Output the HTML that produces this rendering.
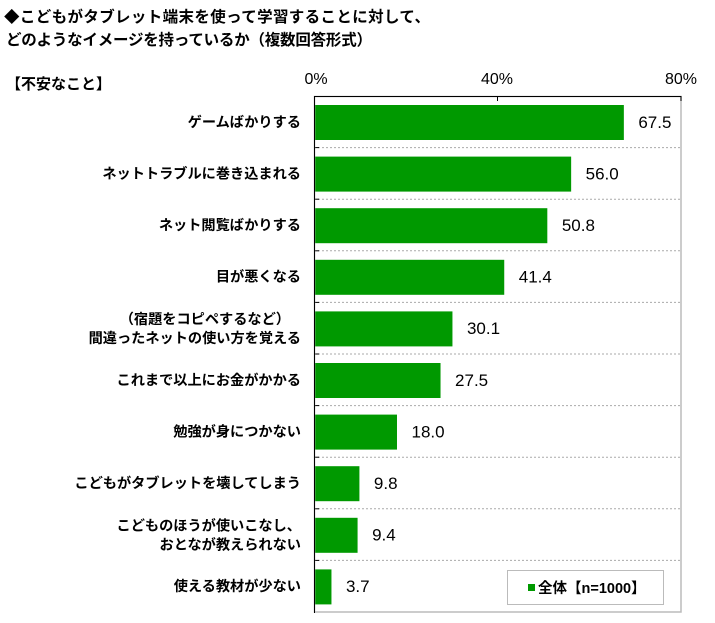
<!DOCTYPE html><html><head><meta charset="utf-8"><style>
body{margin:0;width:715px;height:618px;background:#fff;font-family:"Liberation Sans","Noto Sans CJK JP",sans-serif;}
</style></head><body>
<svg width="715" height="618" xmlns="http://www.w3.org/2000/svg" font-family="Liberation Sans, Noto Sans CJK JP, sans-serif">
<text x="4" y="22" font-size="15.5" font-weight="bold" textLength="426">◆こどもがタブレット端末を使って学習することに対して、</text>
<text x="6" y="45" font-size="15.5" font-weight="bold" textLength="366">どのようなイメージを持っているか（複数回答形式）</text>
<text x="6" y="89" font-size="15" font-weight="bold">【不安なこと】</text>
<g font-size="16" text-anchor="middle"><text x="316" y="84">0%</text><text x="497" y="84">40%</text><text x="681" y="84">80%</text></g>
<g id="rows"></g>
<rect x="314.5" y="96.5" width="366.5" height="515.5" fill="none" stroke="#bbb" stroke-width="1.5"/>
<line x1="314.5" y1="96.5" x2="681" y2="96.5" stroke="#000"/>
<line x1="314.5" y1="96" x2="314.5" y2="613" stroke="#000"/>
<line x1="497.5" y1="96" x2="497.5" y2="101" stroke="#000"/>
<line x1="681" y1="96" x2="681" y2="101" stroke="#000"/>
<rect x="507.5" y="570.5" width="156" height="34" fill="#fff" stroke="#bbb"/>
<rect x="528" y="584" width="7" height="7" fill="#009900"/>
<text x="538" y="593" font-size="14.5" font-weight="bold">全体【n=1000】</text>
</svg>
<script>
var d=[["ゲームばかりする",67.5],["ネットトラブルに巻き込まれる",56.0],["ネット閲覧ばかりする",50.8],["目が悪くなる",41.4],["（宿題をコピペするなど）|間違ったネットの使い方を覚える",30.1],["これまで以上にお金がかかる",27.5],["勉強が身につかない",18.0],["こどもがタブレットを壊してしまう",9.8],["こどものほうが使いこなし、|おとなが教えられない",9.4],["使える教材が少ない",3.7]];
var s="",h=51.6;
d.forEach(function(r,i){var y=96+i*h,c=y+h/2,w=r[1]*4.583;
if(i>0)s+='<line x1="314" y1="'+y+'" x2="681" y2="'+y+'" stroke="#aaa" stroke-dasharray="2,2"/><line x1="314" y1="'+y+'" x2="319" y2="'+y+'" stroke="#000"/>';
s+='<rect x="314.5" y="'+(y+9)+'" width="'+w+'" height="35" fill="#009900"/>';
s+='<text x="'+(314+w+15)+'" y="'+(c+6)+'" font-size="17">'+r[1].toFixed(1)+'</text>';
var L=r[0].split("|");
if(L.length==1)s+='<text x="301" y="'+(c+5)+'" font-size="14.2" font-weight="bold" text-anchor="end">'+L[0]+'</text>';
else{s+='<text x="'+(i==4?290:301)+'" y="'+(c-4)+'" font-size="14.2" font-weight="bold" text-anchor="end">'+L[0]+'</text><text x="301" y="'+(c+15)+'" font-size="14.2" font-weight="bold" text-anchor="end">'+L[1]+'</text>';}
});
document.getElementById("rows").innerHTML=s;
</script>
</body></html>
